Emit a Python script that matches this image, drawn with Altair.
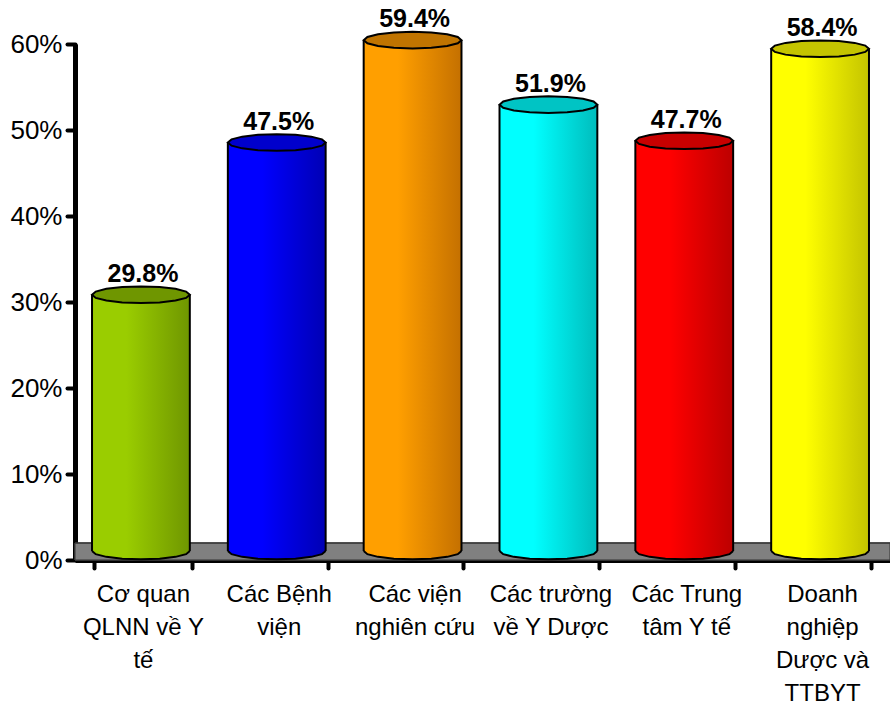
import math

import altair as alt
import pandas as pd

# Survey share per institution type (label lines separated by "|")
categories = [
    "Cơ quan|QLNN về Y|tế",
    "Các Bệnh|viện",
    "Các viện|nghiên cứu",
    "Các trường|về Y Dược",
    "Các Trung|tâm Y tế",
    "Doanh|nghiệp|Dược và|TTBYT",
]
shares = [0.298, 0.475, 0.594, 0.519, 0.477, 0.584]

# Cylinder colours: lit side, shaded side, top cap
body_colors = ["#9acd00", "#0000ff", "#ff9f00", "#00ffff", "#ff0000", "#ffff00"]
shade_colors = ["#6f9600", "#0000b4", "#c47000", "#00bcbc", "#bc0000", "#c4c400"]
top_colors = ["#6f9600", "#0000cc", "#c07400", "#00c4c4", "#c80000", "#c4c400"]

FONT = "Liberation Sans"
W, H = 815, 516
PAD_INNER = 0.28
step = W / len(categories)
bandwidth = step * (1 - PAD_INNER)
cap_size = bandwidth ** 2          # symbol size -> width equals the bar width
DEPTH = -9                         # 3D lift of the bars above the floor line
SHIFT = -2


def ellipse_path(n, start, end, closed):
    """Polygonal ellipse in the [-1, 1] symbol box (flattened vertically)."""
    pts = []
    for k in range(n + 1):
        t = start + (end - start) * k / n
        pts.append(f"{math.cos(t):.3f},{0.17 * math.sin(t):.3f}")
    path = "M" + " L".join(pts)
    return path + (" Z" if closed else "")


top_shape = ellipse_path(16, 0, 2 * math.pi, True)
bottom_shape = ellipse_path(8, 0, math.pi, False)

df = pd.DataFrame({"category": categories, "share": shares})

x_enc = alt.X(
    "category:N",
    sort=categories,
    scale=alt.Scale(paddingInner=PAD_INNER, paddingOuter=PAD_INNER / 2),
    axis=alt.Axis(
        title=None,
        labelAngle=0,
        labelExpr="split(datum.label, '|')",
        labelFont=FONT,
        labelFontSize=24,
        labelColor="black",
        labelLineHeight=33,
        labelPadding=14,
        labelBaseline="top",
        tickBand="extent",
        tickSize=8,
        tickWidth=4,
        tickColor="black",
        tickCap="round",
        domainColor="black",
        domainWidth=5,
        labelLimit=200,
    ),
)
y_scale = alt.Scale(domain=[0, 0.6], nice=False, zero=True)
y_enc = alt.Y(
    "share:Q",
    scale=y_scale,
    axis=alt.Axis(
        title=None,
        format=".0%",
        values=[0, 0.1, 0.2, 0.3, 0.4, 0.5, 0.6],
        labelFont=FONT,
        labelFontSize=26,
        labelColor="black",
        labelPadding=5,
        tickSize=8,
        tickWidth=4,
        tickColor="black",
        tickCap="round",
        domainColor="black",
        domainWidth=5,
        grid=False,
    ),
)

# Grey floor of the 3D plot
floor = alt.Chart(df).mark_rect(
    color="#808080", stroke="#333333", strokeWidth=1
).encode(
    x=alt.value(0),
    x2=alt.value(W),
    y=alt.datum(0.0, scale=y_scale),
    y2=alt.datum(0.0195),
)

layers = [floor]
for cat, body, shade, top in zip(categories, body_colors, shade_colors, top_colors):
    grad = alt.LinearGradient(
        gradient="linear",
        stops=[
            alt.GradientStop(color=body, offset=0),
            alt.GradientStop(color=body, offset=0.35),
            alt.GradientStop(color=shade, offset=1),
        ],
        x1=0, x2=1, y1=0, y2=0,
    )
    base = alt.Chart(df).transform_filter(alt.datum.category == cat)
    body_mark = base.mark_bar(
        color=grad, xOffset=SHIFT, yOffset=DEPTH, y2Offset=DEPTH
    ).encode(x=x_enc, y=y_enc)
    bottom_mark = base.mark_point(
        shape=bottom_shape, size=cap_size, filled=True, fill=grad,
        stroke="black", strokeWidth=2, opacity=1, xOffset=SHIFT, yOffset=DEPTH,
    ).encode(x=x_enc, y=alt.datum(0))
    left_edge = base.mark_rule(
        color="black", strokeWidth=2, xOffset=SHIFT, yOffset=DEPTH, y2Offset=DEPTH
    ).encode(x=alt.X("category:N", sort=categories, bandPosition=0),
             y="share:Q", y2=alt.datum(0))
    right_edge = base.mark_rule(
        color="black", strokeWidth=2, xOffset=SHIFT, yOffset=DEPTH, y2Offset=DEPTH
    ).encode(x=alt.X("category:N", sort=categories, bandPosition=1),
             y="share:Q", y2=alt.datum(0))
    top_mark = base.mark_point(
        shape=top_shape, size=cap_size, filled=True, fill=top,
        stroke="black", strokeWidth=2, opacity=1, xOffset=SHIFT, yOffset=DEPTH,
    ).encode(x=x_enc, y="share:Q")
    layers += [body_mark, bottom_mark, left_edge, right_edge, top_mark]

value_labels = alt.Chart(df).mark_text(
    font=FONT, fontSize=25, fontWeight="bold", color="black",
    baseline="alphabetic", dy=DEPTH - 13,
).encode(x=x_enc, y="share:Q", text=alt.Text("share:Q", format=".1%"))
layers.append(value_labels)

chart = alt.layer(*layers).properties(
    width=W,
    height=H,
    autosize=alt.AutoSizeParams(type="none"),
    padding={"left": 75, "top": 44, "right": 0, "bottom": 144},
    background="white",
).configure_view(stroke=None)

chart.save("out.html", embed_options={"renderer": "svg", "actions": False})
